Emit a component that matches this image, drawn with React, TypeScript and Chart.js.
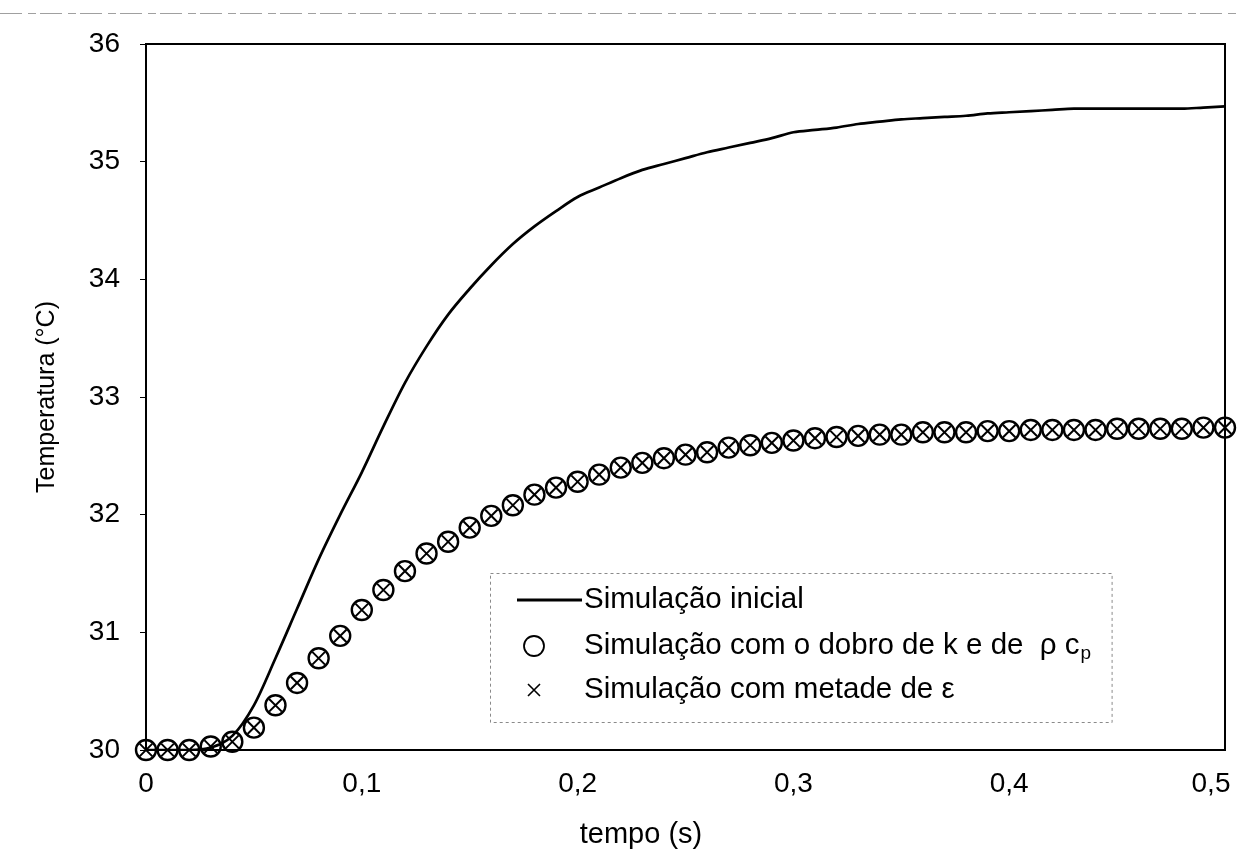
import React, { useEffect, useRef } from "react";
import { Chart, registerables } from "chart.js";

Chart.register(...registerables);

// ---- data ----
const TIMES = [
  0, 0.01, 0.02, 0.03, 0.04, 0.05, 0.06, 0.07, 0.08, 0.09,
  0.1, 0.11, 0.12, 0.13, 0.14, 0.15, 0.16, 0.17, 0.18, 0.19,
  0.2, 0.21, 0.22, 0.23, 0.24, 0.25, 0.26, 0.27, 0.28, 0.29,
  0.3, 0.31, 0.32, 0.33, 0.34, 0.35, 0.36, 0.37, 0.38, 0.39,
  0.4, 0.41, 0.42, 0.43, 0.44, 0.45, 0.46, 0.47, 0.48, 0.49, 0.5,
];

const T_INICIAL = [
  30.0, 30.0, 30.0, 30.02, 30.12, 30.38, 30.78, 31.2, 31.62, 32.0,
  32.36, 32.75, 33.12, 33.43, 33.7, 33.92, 34.12, 34.3, 34.45, 34.58,
  34.7, 34.78, 34.86, 34.93, 34.98, 35.03, 35.08, 35.12, 35.16, 35.2,
  35.25, 35.27, 35.29, 35.32, 35.34, 35.36, 35.37, 35.38, 35.39, 35.41,
  35.42, 35.43, 35.44, 35.45, 35.45, 35.45, 35.45, 35.45, 35.45, 35.46, 35.47,
];

const T_DOBRO = [
  30.0, 30.0, 30.0, 30.03, 30.07, 30.19, 30.38, 30.57, 30.78, 30.97,
  31.19, 31.36, 31.52, 31.67, 31.77, 31.89, 31.99, 32.08, 32.17, 32.23,
  32.28, 32.34, 32.4, 32.44, 32.48, 32.51, 32.53, 32.57, 32.59, 32.61,
  32.63, 32.65, 32.66, 32.67, 32.68, 32.68, 32.7, 32.7, 32.7, 32.71,
  32.71, 32.72, 32.72, 32.72, 32.72, 32.73, 32.73, 32.73, 32.73, 32.74, 32.74,
];

const T_METADE = [
  30.0, 30.0, 30.0, 30.03, 30.07, 30.19, 30.38, 30.57, 30.78, 30.97,
  31.19, 31.36, 31.52, 31.67, 31.77, 31.89, 31.99, 32.08, 32.17, 32.23,
  32.28, 32.34, 32.4, 32.44, 32.48, 32.51, 32.53, 32.57, 32.59, 32.61,
  32.63, 32.65, 32.66, 32.67, 32.68, 32.68, 32.7, 32.7, 32.7, 32.71,
  32.71, 32.72, 32.72, 32.72, 32.72, 32.73, 32.73, 32.73, 32.73, 32.74, 32.74,
];

const X_TICKS = [0, 0.1, 0.2, 0.3, 0.4, 0.5];
const Y_TICKS = [30, 31, 32, 33, 34, 35, 36];

const SERIES_LABELS = [
  "Simulação inicial",
  "Simulação com o dobro de k e de  ρ c",
  "Simulação com metade de ε",
];
const SUBSCRIPT_P = "p";
const X_TITLE = "tempo (s)";
const Y_TITLE = "Temperatura (°C)";

const FONT = "'Liberation Sans', Arial, sans-serif";
const W = 1240;
const H = 859;

const fmt = (v: number) => String(Number(v.toFixed(1))).replace(".", ",");

const toPoints = (ys: number[]) => TIMES.map((t, i) => ({ x: t, y: ys[i] }));

const decorPlugin = {
  id: "decor",
  beforeDraw(chart: any) {
    const { ctx } = chart;
    ctx.save();
    ctx.fillStyle = "#fff";
    ctx.fillRect(0, 0, chart.width, chart.height);
    // faint scan line at the very top
    ctx.strokeStyle = "#a0a0a0";
    ctx.lineWidth = 1;
    ctx.setLineDash([22, 6, 8, 4]);
    ctx.beginPath();
    ctx.moveTo(0, 13.5);
    ctx.lineTo(chart.width, 13.5);
    ctx.stroke();
    ctx.restore();
  },
  beforeDatasetsDraw(chart: any) {
    const { ctx, chartArea: a } = chart;
    ctx.save();
    ctx.strokeStyle = "#000";
    ctx.lineWidth = 2;
    ctx.strokeRect(a.left, a.top, a.right - a.left, a.bottom - a.top);
    ctx.restore();
  },
  afterDraw(chart: any) {
    const { ctx } = chart;
    ctx.save();
    // x axis title
    ctx.font = `29px ${FONT}`;
    ctx.fillStyle = "#000";
    ctx.textAlign = "center";
    ctx.textBaseline = "middle";
    ctx.fillText(X_TITLE, 641, 835);

    const textX = 584;
    const rows = [600, 646, 690];
    ctx.font = `29.5px ${FONT}`;
    const w2 = ctx.measureText(SERIES_LABELS[1]).width;

    // legend box (sized to fit its longest entry)
    const bx = 490, by = 573, bh = 149;
    const bw = textX + w2 + 14 - bx + 18;
    ctx.fillStyle = "#fff";
    ctx.fillRect(bx, by, bw, bh);
    ctx.strokeStyle = "#8a8a8a";
    ctx.lineWidth = 1;
    ctx.setLineDash([3, 3]);
    ctx.strokeRect(bx + 0.5, by + 0.5, bw, bh);
    ctx.setLineDash([]);

    ctx.fillStyle = "#000";
    ctx.textBaseline = "middle";
    ctx.textAlign = "left";

    // row 1: line sample
    ctx.strokeStyle = "#000";
    ctx.lineWidth = 3;
    ctx.beginPath();
    ctx.moveTo(517, rows[0]);
    ctx.lineTo(582, rows[0]);
    ctx.stroke();
    ctx.fillText(SERIES_LABELS[0], textX, rows[0]);

    // row 2: circle
    ctx.lineWidth = 1.8;
    ctx.beginPath();
    ctx.arc(534, rows[1], 10, 0, Math.PI * 2);
    ctx.stroke();
    ctx.fillText(SERIES_LABELS[1], textX, rows[1]);
    ctx.font = `19px ${FONT}`;
    ctx.fillText(SUBSCRIPT_P, textX + w2 + 1, rows[1] + 8);

    // row 3: cross
    ctx.font = `29.5px ${FONT}`;
    ctx.lineWidth = 1.6;
    const c = 6;
    ctx.beginPath();
    ctx.moveTo(534 - c, rows[2] - c);
    ctx.lineTo(534 + c, rows[2] + c);
    ctx.moveTo(534 + c, rows[2] - c);
    ctx.lineTo(534 - c, rows[2] + c);
    ctx.stroke();
    ctx.fillText(SERIES_LABELS[2], textX, rows[2]);
    ctx.restore();
  },
};

export default function App() {
  const ref = useRef<HTMLCanvasElement | null>(null);

  useEffect(() => {
    if (!ref.current) return;
    const chart = new Chart(ref.current, {
      type: "line",
      data: {
        datasets: [
          {
            label: SERIES_LABELS[0],
            data: toPoints(T_INICIAL),
            borderColor: "#000",
            borderWidth: 2.7,
            pointRadius: 0,
            cubicInterpolationMode: "monotone",
            fill: false,
            order: 3,
          },
          {
            label: SERIES_LABELS[1],
            data: toPoints(T_DOBRO),
            showLine: false,
            pointStyle: "circle",
            pointRadius: 10,
            pointBorderWidth: 2.4,
            pointBorderColor: "#000",
            pointBackgroundColor: "rgba(0,0,0,0)",
            clip: false,
            order: 2,
          },
          {
            label: SERIES_LABELS[2],
            data: toPoints(T_METADE),
            showLine: false,
            pointStyle: "crossRot",
            pointRadius: 9,
            pointBorderWidth: 2,
            pointBorderColor: "#000",
            clip: false,
            order: 1,
          },
        ],
      },
      options: {
        responsive: false,
        animation: false,
        layout: { padding: { top: 44, right: 15, left: 0, bottom: 0 } },
        plugins: {
          legend: { display: false },
          tooltip: { enabled: false },
        },
        scales: {
          x: {
            type: "linear",
            min: 0,
            max: 0.5,
            afterBuildTicks: (s: any) => {
              s.ticks = X_TICKS.map((v) => ({ value: v }));
            },
            afterFit: (s: any) => {
              s.height = 109;
              s.paddingLeft = 0;
              s.paddingRight = 0;
            },
            grid: { display: true, drawOnChartArea: false, drawTicks: false },
            border: { display: true, color: "#000", width: 2 },
            ticks: {
              color: "#000",
              font: { family: FONT, size: 28 },
              padding: 17,
              maxRotation: 0,
              autoSkip: false,
              // the last label sits slightly left of its tick (page edge), as in the reference
              callback: (v: any) => {
                const n = Number(v);
                return n >= 0.5 ? fmt(n) + "\u2002\u2002" : fmt(n);
              },
            },
            title: { display: false, text: X_TITLE },
          },
          y: {
            type: "linear",
            min: 30,
            max: 36,
            afterBuildTicks: (s: any) => {
              s.ticks = Y_TICKS.map((v) => ({ value: v }));
            },
            afterFit: (s: any) => {
              s.width = 146;
              s.paddingTop = 0;
              s.paddingBottom = 0;
            },
            grid: {
              display: true,
              drawOnChartArea: false,
              drawTicks: true,
              tickLength: 6,
              color: "#000",
              lineWidth: 1,
            },
            border: { display: true, color: "#000", width: 2 },
            ticks: {
              color: "#000",
              font: { family: FONT, size: 28 },
              padding: 20,
              callback: (v: any) => String(v),
            },
            title: {
              display: true,
              text: Y_TITLE,
              color: "#000",
              font: { family: FONT, size: 25 },
              padding: { top: 32, bottom: 0 },
            },
          },
        },
      },
      plugins: [decorPlugin],
    } as any);
    return () => chart.destroy();
  }, []);

  return (
    <div style={{ position: "absolute", left: 0, top: 0, width: W, height: H, background: "#fff" }}>
      <canvas ref={ref} width={W} height={H} style={{ display: "block", width: W, height: H }} />
    </div>
  );
}
